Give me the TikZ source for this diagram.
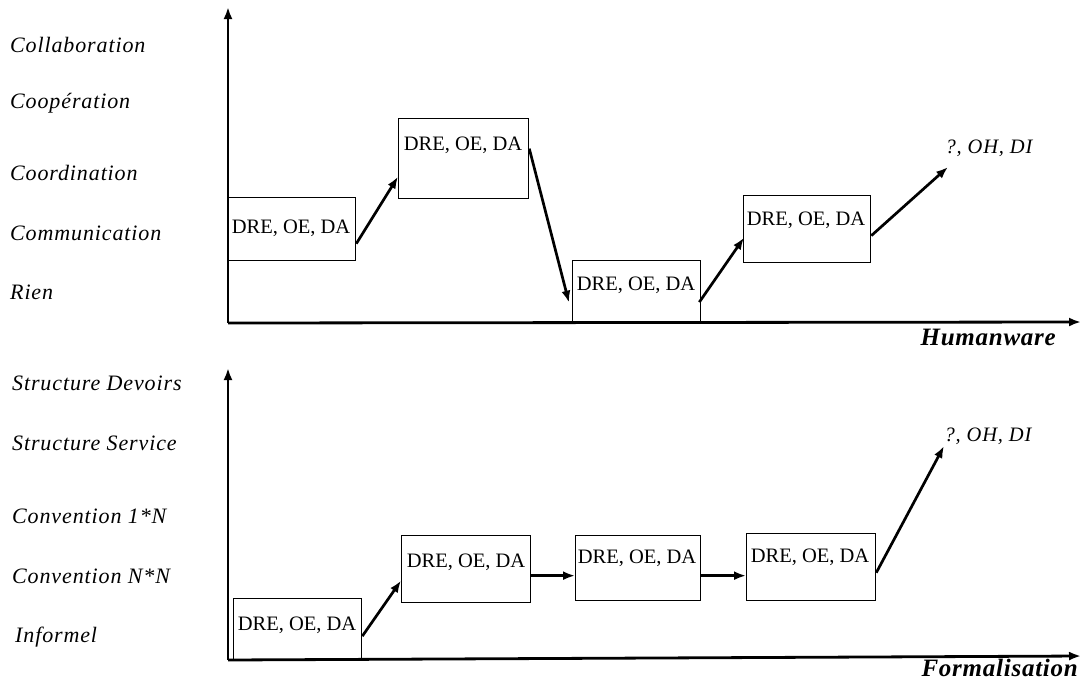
\documentclass[tikz,border=0pt]{standalone}
\usepackage{fontspec}
\setmainfont{Liberation Serif}
\newfontfamily\lblfont[LetterSpace=4]{Liberation Serif}
\newfontfamily\axfont[LetterSpace=3]{Liberation Serif}
\usetikzlibrary{arrows.meta,calc}
\begin{document}
\begin{tikzpicture}[x=1pt,y=-1pt,
  axis/.style={line width=2.8pt,-{Latex[length=12pt,width=9pt]}},
  arr/.style={line width=2.7pt,-{Latex[length=12pt,width=9pt]}},
  bx/.style={draw,line width=1.3pt,anchor=north west,inner sep=0pt},
  txt/.style={font=\fontsize{20.5}{22}\selectfont,inner sep=0pt},
  qtxt/.style={font=\lblfont\itshape\fontsize{20.5}{22}\selectfont,inner sep=0pt},
  ylab/.style={font=\lblfont\itshape\fontsize{22}{24}\selectfont,anchor=west,inner sep=0pt},
  xlab/.style={font=\axfont\bfseries\itshape\fontsize{25}{27}\selectfont,anchor=base east,inner sep=0pt}]
\useasboundingbox (0,0) rectangle (1082,681);

% ---------- top chart ----------
\coordinate (o1) at (228,323);
\coordinate (y1) at (228,7);
\coordinate (x1) at (1081,322);
\draw[axis] (o1) -- (y1);
\draw[axis] (o1) -- (x1);
\node[xlab] (hx) at (1056,345) {Humanware};

\node[ylab] (l1) at (10,45) {Collaboration};
\node[ylab] (l2) at (10,103) {Coopération};
\node[ylab] (l3) at (10,173) {Coordination};
\node[ylab] (l4) at (10,233) {Communication};
\node[ylab] (l5) at (10,292) {Rien};

\node[bx,minimum width=127pt,minimum height=63pt] (b1) at (228,197) {};
\node[bx,minimum width=130pt,minimum height=80pt] (b2) at (398,118) {};
\node[bx,minimum width=128pt,minimum height=63pt] (b3) at (572,260) {};
\node[bx,minimum width=127pt,minimum height=67pt] (b4) at (743,195) {};
\node[txt] (t1) at (291,228) {DRE, OE, DA};
\node[txt] (t2) at (463,145) {DRE, OE, DA};
\node[txt] (t3) at (636,285) {DRE, OE, DA};
\node[txt] (t4) at (806,220) {DRE, OE, DA};
\node[qtxt] (q1) at (989,148) {?, OH, DI};
\coordinate (e1) at (948,167);

\draw[arr] ($(b1.east)+(0,14.5)$) -- ($(b2.west)+(0,18)$);
\draw[arr] ($(b2.east)+(0,-10)$) -- ($(b3.west)+(-3,10.5)$);
\draw[arr] ($(b3.east)+(-2,10)$) -- ($(b4.west)+(1,8.5)$);
\draw[arr] ($(b4.east)+(0,6.5)$) -- (e1);

% ---------- bottom chart ----------
\coordinate (o2) at (228,660);
\coordinate (y2) at (228,368);
\coordinate (x2) at (1081,656);
\draw[axis] (o2) -- (y2);
\draw[axis] (o2) -- (x2);
\node[xlab] (fx) at (1078,676) {Formalisation};

\node[ylab] (m1) at (12,383) {Structure Devoirs};
\node[ylab] (m2) at (12,443) {Structure Service};
\node[ylab] (m3) at (12,516) {Convention 1*N};
\node[ylab] (m4) at (12,576) {Convention N*N};
\node[ylab] (m5) at (15,637) {Informel};

\node[bx,minimum width=128pt,minimum height=62pt] (b5) at (233,598) {};
\node[bx,minimum width=129pt,minimum height=67pt] (b6) at (401,535) {};
\node[bx,minimum width=125pt,minimum height=65pt] (b7) at (575,535) {};
\node[bx,minimum width=129pt,minimum height=67pt] (b8) at (746,533) {};
\node[txt] (t5) at (297,625) {DRE, OE, DA};
\node[txt] (t6) at (466,562) {DRE, OE, DA};
\node[txt] (t7) at (637,558) {DRE, OE, DA};
\node[txt] (t8) at (810,557) {DRE, OE, DA};
\node[qtxt] (q2) at (988,436) {?, OH, DI};
\coordinate (e2) at (944,446);

\draw[arr] ($(b5.east)+(0,6.5)$) -- ($(b6.west)+(0,11.5)$);
\draw[arr] ($(b6.east)+(0,6.5)$) -- ($(b7.west)+(0,7.5)$);
\draw[arr] ($(b7.east)+(0,7.5)$) -- ($(b8.west)+(0,8.5)$);
\draw[arr] ($(b8.east)+(0,5.5)$) -- (e2);
\end{tikzpicture}
\end{document}
